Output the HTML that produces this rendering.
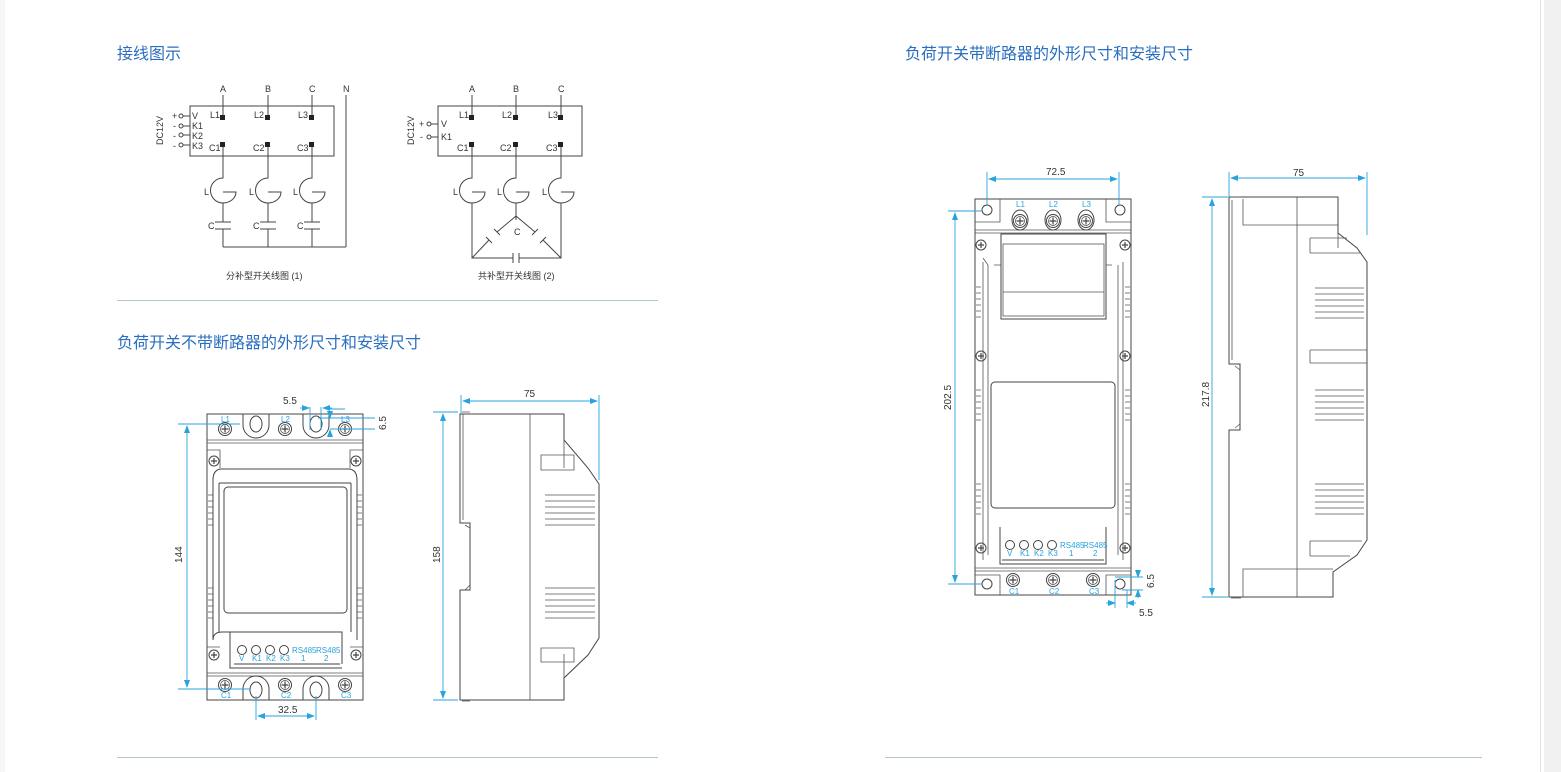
<!DOCTYPE html>
<html><head><meta charset="utf-8"><style>
html,body{margin:0;padding:0;background:#fff;width:1561px;height:772px;overflow:hidden}
svg{display:block}
.h{font-family:"Liberation Sans","Noto Sans CJK SC",sans-serif;font-size:16px;fill:#2a6ebf}
.t{font-family:"Liberation Sans","Noto Sans CJK SC",sans-serif;font-size:9px;fill:#333}
.b{font-family:"Liberation Sans",sans-serif;font-size:8px;fill:#29a3dd}
.d{font-family:"Liberation Sans",sans-serif;font-size:10px;fill:#333}
.k{fill:none;stroke:#444;stroke-width:1}
.kt{fill:none;stroke:#555;stroke-width:0.8}
.dm{fill:none;stroke:#29a3dd;stroke-width:0.9}
</style></head><body>
<svg width="1561" height="772" viewBox="0 0 1561 772" xmlns="http://www.w3.org/2000/svg">
<defs>
<marker id="a" markerWidth="8" markerHeight="6" refX="7" refY="3" orient="auto-start-reverse" markerUnits="userSpaceOnUse"><path d="M0,0L8,3L0,6z" fill="#29a3dd"/></marker>
<g id="scr"><circle r="6.5" fill="#fff" stroke="#444"/><circle r="4.5" fill="none" stroke="#444" stroke-width="0.7"/><path d="M-3.5,0H3.5M0,-3.5V3.5" stroke="#444" stroke-width="1.2"/></g>
<g id="cs"><circle r="5" fill="#fff" stroke="#444"/><path d="M-3,0H3M0,-3V3" stroke="#444" stroke-width="1.2"/></g>
<g id="ind"><path d="M0,0V22A12,12 0 0 0 0,47M0,36H13A13,11 0 0 1 0,47V64" class="k"/></g>
</defs>
<rect x="1540" y="0" width="1" height="772" fill="#e2e2e2"/>
<rect x="1544" y="0" width="17" height="772" fill="#f0f0f0"/>
<rect x="0" y="0" width="5" height="772" fill="#f7f7f7"/>

<text class="h" x="117" y="59">接线图示</text>
<text class="h" x="117" y="348">负荷开关不带断路器的外形尺寸和安装尺寸</text>
<text class="h" x="905" y="59">负荷开关带断路器的外形尺寸和安装尺寸</text>
<line x1="117" y1="300.5" x2="658" y2="300.5" stroke="#b4c6cf"/>
<line x1="117" y1="757.5" x2="658" y2="757.5" stroke="#b4c6cf"/>
<line x1="885" y1="757.5" x2="1482" y2="757.5" stroke="#b4c6cf"/>

<!-- Wiring 1 -->
<g>
<rect x="190" y="106" width="144" height="50" class="k"/>
<text class="t" x="220" y="92">A</text><text class="t" x="265" y="92">B</text><text class="t" x="309" y="92">C</text><text class="t" x="343" y="92">N</text>
<path d="M223,95V118M268,95V118M312,95V118M346,95V247M223,144V156M268,144V156M312,144V156" class="k"/>
<rect x="220" y="115" width="5" height="5" fill="#222"/><rect x="265" y="115" width="5" height="5" fill="#222"/><rect x="309" y="115" width="5" height="5" fill="#222"/>
<rect x="220" y="142" width="5" height="5" fill="#222"/><rect x="265" y="142" width="5" height="5" fill="#222"/><rect x="309" y="142" width="5" height="5" fill="#222"/>
<text class="t" x="210" y="118">L1</text><text class="t" x="254" y="118">L2</text><text class="t" x="298" y="118">L3</text>
<text class="t" x="209" y="151">C1</text><text class="t" x="253" y="151">C2</text><text class="t" x="297" y="151">C3</text>
<text class="t" x="172" y="119">+</text><text class="t" x="173" y="129">-</text><text class="t" x="173" y="139">-</text><text class="t" x="173" y="149">-</text>
<circle cx="181" cy="116" r="2" class="k"/><circle cx="181" cy="126" r="2" class="k"/><circle cx="181" cy="135" r="2" class="k"/><circle cx="181" cy="145" r="2" class="k"/>
<path d="M183,116H190M183,126H190M183,135H190M183,145H190" class="k"/>
<text class="t" x="192" y="119">V</text><text class="t" x="192" y="129">K1</text><text class="t" x="192" y="139">K2</text><text class="t" x="192" y="149">K3</text>
<text class="t" transform="translate(163,145) rotate(-90)">DC12V</text>
<use href="#ind" x="223" y="156"/><use href="#ind" x="268" y="156"/><use href="#ind" x="312" y="156"/>
<path d="M223,220V222M215,222H231M215,229H231M223,229V247M268,220V222M260,222H276M260,229H276M268,229V247M312,220V222M304,222H320M304,229H320M312,229V247M223,247H346" class="k"/>
<text class="t" x="204" y="195">L</text><text class="t" x="249" y="195">L</text><text class="t" x="293" y="195">L</text>
<text class="t" x="208" y="229">C</text><text class="t" x="253" y="229">C</text><text class="t" x="297" y="229">C</text>
<text class="t" x="226" y="279">分补型开关线图 (1)</text>
</g>
<!-- Wiring 2 -->
<g>
<rect x="438" y="106" width="144" height="50" class="k"/>
<text class="t" x="469" y="92">A</text><text class="t" x="513" y="92">B</text><text class="t" x="558" y="92">C</text>
<path d="M472,95V118M516,95V118M561,95V118M472,144V156M516,144V156M561,144V156" class="k"/>
<rect x="469" y="115" width="5" height="5" fill="#222"/><rect x="513" y="115" width="5" height="5" fill="#222"/><rect x="558" y="115" width="5" height="5" fill="#222"/>
<rect x="469" y="142" width="5" height="5" fill="#222"/><rect x="513" y="142" width="5" height="5" fill="#222"/><rect x="558" y="142" width="5" height="5" fill="#222"/>
<text class="t" x="459" y="118">L1</text><text class="t" x="502" y="118">L2</text><text class="t" x="548" y="118">L3</text>
<text class="t" x="457" y="151">C1</text><text class="t" x="500" y="151">C2</text><text class="t" x="546" y="151">C3</text>
<text class="t" x="419" y="127">+</text><text class="t" x="420" y="140">-</text>
<circle cx="429" cy="124" r="2" class="k"/><circle cx="429" cy="137" r="2" class="k"/>
<path d="M431,124H438M431,137H438" class="k"/>
<text class="t" x="441" y="127">V</text><text class="t" x="441" y="140">K1</text>
<text class="t" transform="translate(414,145) rotate(-90)">DC12V</text>
<use href="#ind" x="472" y="156"/><use href="#ind" x="516" y="156"/><use href="#ind" x="561" y="156"/>
<path d="M472,220V258H513M519,258H561V220M513,253V263M519,253V263M516,220V216L497,232M489,240L472,258M516,216L535,232M543,240L561,258M494,229L500,235M486,237L492,243M538,229L532,235M546,237L540,243" class="k"/>
<text class="t" x="453" y="195">L</text><text class="t" x="497" y="195">L</text><text class="t" x="542" y="195">L</text>
<text class="t" x="514" y="235">C</text>
<text class="t" x="478" y="279">共补型开关线图 (2)</text>
</g>

<!-- Small front -->
<g>
<rect x="207" y="414" width="156" height="286" class="k" stroke-width="1.3"/>
<path d="M207,440H363M207,443H363M207,673H363M207,676H363" class="kt"/>
<path d="M243,414V425A13,13 0 0 0 269,425V414M303,414V425A13,13 0 0 0 329,425V414" class="k"/>
<ellipse cx="256" cy="424" rx="6" ry="8" class="k"/><ellipse cx="316" cy="424" rx="6" ry="8" class="k"/>
<path d="M243,700V689A13,13 0 0 1 269,689V700M303,700V689A13,13 0 0 1 329,689V700" class="k"/>
<ellipse cx="256" cy="690" rx="6" ry="8" class="k"/><ellipse cx="316" cy="690" rx="6" ry="8" class="k"/>
<use href="#scr" x="225" y="429"/><use href="#scr" x="285" y="429"/><use href="#scr" x="345" y="429"/>
<use href="#scr" x="225" y="685"/><use href="#scr" x="285" y="685"/><use href="#scr" x="345" y="685"/>
<text class="b" x="221" y="422">L1</text><text class="b" x="281" y="422">L2</text><text class="b" x="341" y="422">L3</text>
<text class="b" x="221" y="698">C1</text><text class="b" x="281" y="698">C2</text><text class="b" x="341" y="698">C3</text>
<path d="M207,450H220V468M363,450H350V468M207,647H220M363,647H350" class="kt"/>
<use href="#cs" x="214" y="461"/><use href="#cs" x="356" y="461"/><use href="#cs" x="214" y="655"/><use href="#cs" x="356" y="655"/>
<path d="M213,480Q213,469 222,469H348Q357,469 357,480V640M213,480V640M219,483V632M351,483V632M219,483H351" class="k"/>
<path d="M208,495h5M208,501h5M208,507h5M208,513h5M208,519h5M208,525h5M208,588h5M208,594h5M208,600h5M208,606h5M208,612h5M208,618h5M357,495h5M357,501h5M357,507h5M357,513h5M357,519h5M357,525h5M357,588h5M357,594h5M357,600h5M357,606h5M357,612h5M357,618h5" class="kt"/>
<rect x="224" y="487" width="123" height="126" rx="4" class="k" stroke-width="1.3"/>
<path d="M213,640Q213,632 222,632H342V664M230,632V668H342M234,664H340" class="k"/>
<circle cx="242" cy="650" r="4.5" class="k"/><circle cx="256" cy="650" r="4.5" class="k"/><circle cx="270" cy="650" r="4.5" class="k"/><circle cx="284" cy="650" r="4.5" class="k"/>
<text class="b" x="239" y="661">V</text><text class="b" x="252" y="661">K1</text><text class="b" x="266" y="661">K2</text><text class="b" x="280" y="661">K3</text>
<text class="b" x="292" y="653">RS485</text><text class="b" x="316" y="653">RS485</text>
<text class="b" x="301" y="661">1</text><text class="b" x="324" y="661">2</text>
<path d="M178,424H240M178,689H250M256,696V720M316,696V720" class="dm" stroke-width="0.6"/>
<line x1="187" y1="426" x2="187" y2="687" class="dm" marker-start="url(#a)" marker-end="url(#a)"/>
<text class="d" transform="translate(182,563) rotate(-90)">144</text>
<line x1="258" y1="716" x2="314" y2="716" class="dm" marker-start="url(#a)" marker-end="url(#a)"/>
<text class="d" x="278" y="713">32.5</text>
<path d="M310,407V430M321,407V430M330,409H345M330,429H375M318,418H375" class="dm" stroke-width="0.6"/>
<line x1="300" y1="408" x2="309" y2="408" class="dm" marker-end="url(#a)"/><line x1="332" y1="408" x2="323" y2="408" class="dm" marker-end="url(#a)"/>
<text class="d" x="283" y="404">5.5</text>
<line x1="330" y1="411" x2="330" y2="418" class="dm" marker-end="url(#a)"/><line x1="330" y1="437" x2="330" y2="430" class="dm" marker-end="url(#a)"/>
<text class="d" transform="translate(386,430) rotate(-90)">6.5</text>
</g>

<!-- Small side -->
<g>
<path d="M460,414H564V440L588,468L599,484V638L588,655L564,678V700H460V590H470V523H460Z" class="k" stroke-width="1.2"/>
<path d="M530,414V700M462,412h8M462,701h8M463,414V520M470,528L465,525M470,585L465,590" class="kt"/>
<path d="M564,440V468M564,654V678" class="kt"/>
<path d="M541,455H574V470H541ZM541,648H574V662H541Z" class="kt"/>
<path d="M545,495H595M545,501H595M545,507H595M545,513H595M545,519H595M545,525H595M545,588H595M545,594H595M545,600H595M545,606H595M545,612H595M545,618H595" class="kt"/>
<path d="M433,412H458M433,700H458M461,395V414M599,395V480" class="dm" stroke-width="0.6"/>
<line x1="443" y1="414" x2="443" y2="698" class="dm" marker-start="url(#a)" marker-end="url(#a)"/>
<text class="d" transform="translate(440,563) rotate(-90)">158</text>
<line x1="463" y1="401" x2="597" y2="401" class="dm" marker-start="url(#a)" marker-end="url(#a)"/>
<text class="d" x="524" y="397">75</text>
</g>

<!-- Large front -->
<g>
<rect x="975" y="199" width="156" height="396" class="k" stroke-width="1.3"/>
<path d="M975,230H1131M975,233H1131M975,568H1131M975,571H1131" class="kt"/>
<path d="M1000,199V222H975M1106,199V222H1131M1000,595V575H975M1106,595V575H1131" class="kt"/>
<circle cx="987" cy="210" r="5" class="k"/><circle cx="1120" cy="210" r="5" class="k"/>
<circle cx="987" cy="584" r="5" class="k"/><circle cx="1120" cy="584" r="5" class="k"/>
<ellipse cx="1020" cy="220" rx="8" ry="10" class="k"/><ellipse cx="1053" cy="220" rx="8" ry="10" class="k"/><ellipse cx="1086" cy="220" rx="8" ry="10" class="k"/>
<use href="#scr" x="1020" y="221"/><use href="#scr" x="1053" y="221"/><use href="#scr" x="1086" y="221"/>
<text class="b" x="1016" y="207">L1</text><text class="b" x="1049" y="207">L2</text><text class="b" x="1082" y="207">L3</text>
<use href="#scr" x="1013" y="580"/><use href="#scr" x="1053" y="580"/><use href="#scr" x="1093" y="580"/>
<text class="b" x="1009" y="594">C1</text><text class="b" x="1049" y="594">C2</text><text class="b" x="1089" y="594">C3</text>
<use href="#cs" x="981" y="245"/><use href="#cs" x="1125" y="245"/><use href="#cs" x="981" y="356"/><use href="#cs" x="1125" y="356"/><use href="#cs" x="981" y="548"/><use href="#cs" x="1125" y="548"/>
<path d="M983,262V560M1123,262V560M988,265V555M1118,265V555M988,265Q983,258 983,258M994,265H1001M1106,265H1112" class="kt"/>
<rect x="1001" y="234" width="105" height="85" class="k" stroke-width="1.2"/>
<rect x="1003" y="244" width="101" height="72" class="kt"/>
<line x1="1003" y1="292" x2="1104" y2="292" class="kt"/>
<path d="M976,287h5M976,293h5M976,299h5M976,305h5M976,311h5M976,317h5M976,390h5M976,396h5M976,402h5M976,408h5M976,414h5M976,420h5M976,484h5M976,490h5M976,496h5M976,502h5M976,508h5M976,514h5M1125,287h5M1125,293h5M1125,299h5M1125,305h5M1125,311h5M1125,317h5M1125,390h5M1125,396h5M1125,402h5M1125,408h5M1125,414h5M1125,420h5M1125,484h5M1125,490h5M1125,496h5M1125,502h5M1125,508h5M1125,514h5" class="kt"/>
<rect x="991" y="382" width="124" height="126" rx="4" class="k" stroke-width="1.3"/>
<path d="M1000,527V564H1106V527M1002,560H1104" class="k"/>
<circle cx="1010" cy="545" r="4.5" class="k"/><circle cx="1024" cy="545" r="4.5" class="k"/><circle cx="1038" cy="545" r="4.5" class="k"/><circle cx="1052" cy="545" r="4.5" class="k"/>
<text class="b" x="1007" y="556">V</text><text class="b" x="1020" y="556">K1</text><text class="b" x="1034" y="556">K2</text><text class="b" x="1048" y="556">K3</text>
<text class="b" x="1060" y="548">RS485</text><text class="b" x="1083" y="548">RS485</text>
<text class="b" x="1069" y="556">1</text><text class="b" x="1093" y="556">2</text>
<path d="M987,172V205M1119,172V205M948,211H982M948,584H982" class="dm" stroke-width="0.6"/>
<line x1="989" y1="179" x2="1117" y2="179" class="dm" marker-start="url(#a)" marker-end="url(#a)"/>
<text class="d" x="1046" y="175">72.5</text>
<line x1="955" y1="213" x2="955" y2="582" class="dm" marker-start="url(#a)" marker-end="url(#a)"/>
<text class="d" transform="translate(951,410) rotate(-90)">202.5</text>
<path d="M1115,577H1143M1122,590H1143M1115,580V608M1127,590V608" class="dm" stroke-width="0.6"/>
<line x1="1138" y1="570" x2="1138" y2="577" class="dm" marker-end="url(#a)"/><line x1="1138" y1="598" x2="1138" y2="590" class="dm" marker-end="url(#a)"/>
<text class="d" transform="translate(1154,588) rotate(-90)">6.5</text>
<line x1="1106" y1="603" x2="1115" y2="603" class="dm" marker-end="url(#a)"/><line x1="1136" y1="603" x2="1127" y2="603" class="dm" marker-end="url(#a)"/>
<text class="d" x="1139" y="616">5.5</text>
</g>

<!-- Large side -->
<g>
<path d="M1229,197H1338V233L1357,248L1367,262V540L1357,555L1333,572V597H1229V430H1240V364H1229Z" class="k" stroke-width="1.2"/>
<path d="M1297,197V597M1243,199V225H1338M1243,597V569H1333M1231,197h10M1231,598h10M1232,200V360M1240,370L1235,366M1240,424L1235,428" class="kt"/>
<path d="M1338,233V248M1310,238H1347M1310,253H1360M1310,238V253M1310,350H1367M1310,363H1367M1310,350V363M1310,541H1362M1310,556H1350M1310,541V556" class="kt"/>
<path d="M1315,288H1364M1315,294H1364M1315,300H1364M1315,306H1364M1315,312H1364M1315,318H1364M1315,390H1364M1315,396H1364M1315,402H1364M1315,408H1364M1315,414H1364M1315,420H1364M1315,484H1364M1315,490H1364M1315,496H1364M1315,502H1364M1315,508H1364M1315,514H1364" class="kt"/>
<path d="M1229,172V197M1367,172V235M1202,197H1228M1202,597H1228" class="dm" stroke-width="0.6"/>
<line x1="1231" y1="178" x2="1365" y2="178" class="dm" marker-start="url(#a)" marker-end="url(#a)"/>
<text class="d" x="1293" y="176">75</text>
<line x1="1212" y1="199" x2="1212" y2="595" class="dm" marker-start="url(#a)" marker-end="url(#a)"/>
<text class="d" transform="translate(1209,407) rotate(-90)">217.8</text>
</g>
</svg>
</body></html>
